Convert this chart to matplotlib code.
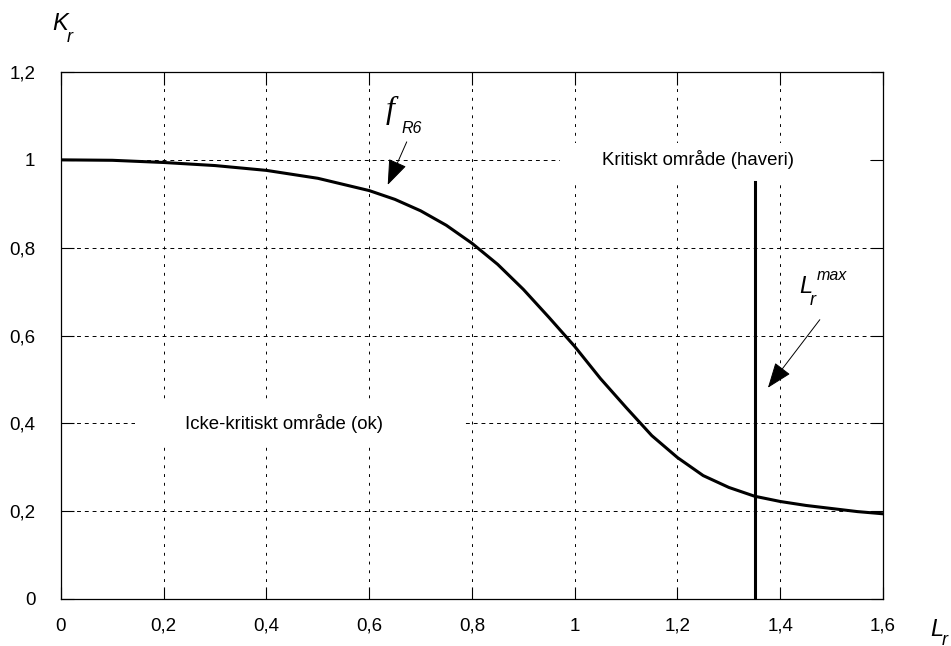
import matplotlib
matplotlib.use("Agg")
import matplotlib.pyplot as plt
from matplotlib.patches import Rectangle
from matplotlib.ticker import FuncFormatter

plt.rcParams['font.family'] = ['Liberation Sans', 'DejaVu Sans']

W, H = 951, 646

# R6 curve
lr = [0.0, 0.1, 0.2, 0.3, 0.4, 0.5, 0.6, 0.65, 0.7, 0.75, 0.8, 0.85, 0.9, 0.95,
      1.0, 1.05, 1.1, 1.15, 1.2, 1.25, 1.3, 1.35, 1.4, 1.45, 1.5, 1.55, 1.6]
kr = [1.000, 0.999, 0.994, 0.987, 0.976, 0.958, 0.930, 0.910, 0.884, 0.851, 0.810,
      0.762, 0.705, 0.641, 0.575, 0.502, 0.436, 0.372, 0.322, 0.281, 0.254, 0.234,
      0.222, 0.213, 0.206, 0.199, 0.194]

lr_max = 1.35
lr_max_top = 0.95

x_ticks = [0, 0.2, 0.4, 0.6, 0.8, 1.0, 1.2, 1.4, 1.6]
y_ticks = [0, 0.2, 0.4, 0.6, 0.8, 1.0, 1.2]


def comma(v, pos):
    s = ('%.1f' % v).rstrip('0').rstrip('.')
    return s.replace('.', ',')


def ptext(x, y, s, size, **kw):
    # place text by pixel position (from top-left), baseline anchored
    fig.text(x / W, 1 - y / H, s, fontsize=size, ha='left', va='baseline',
             fontstyle='italic', **kw)


fig = plt.figure(figsize=(W / 100, H / 100), dpi=100)
ax = fig.add_axes([0.0641, 0.0728, 0.8644, 0.8157])
ax.set_xlim(0, 1.6)
ax.set_ylim(0, 1.2)
ax.set_xticks(x_ticks)
ax.set_yticks(y_ticks)
ax.xaxis.set_major_formatter(FuncFormatter(comma))
ax.yaxis.set_major_formatter(FuncFormatter(comma))
ax.tick_params(direction='in', length=9, width=0.8, top=True, right=True,
               labelsize=13.5, color='black')
ax.tick_params(axis='y', pad=18.5)
ax.tick_params(axis='x', pad=13.5)
for sp in ax.spines.values():
    sp.set_linewidth(0.9)

ax.set_axisbelow(True)
ax.xaxis.grid(True, color='black', linewidth=0.7, linestyle=(0, (3, 6)))
ax.yaxis.grid(True, color='black', linewidth=0.7, linestyle=(0, (4, 4)))

# white boxes behind the region labels
ax.add_patch(Rectangle((0.144, 0.355), 0.638, 0.094, facecolor='white',
                       edgecolor='none', zorder=1))
ax.add_patch(Rectangle((0.971, 0.948), 0.604, 0.091, facecolor='white',
                       edgecolor='none', zorder=1))

ax.plot(lr, kr, color='black', linewidth=2.2, zorder=3)
ax.plot([lr_max, lr_max], [0, lr_max_top], color='black', linewidth=2.2, zorder=3)

ax.text(0.434, 0.40, 'Icke-kritiskt område (ok)', fontsize=13.4, ha='center',
        va='center', zorder=4)
ax.text(1.24, 1.0, 'Kritiskt område (haveri)', fontsize=13.4, ha='center',
        va='center', zorder=4)

arrow = dict(arrowstyle='-|>,head_length=1.6,head_width=0.6', color='black',
             lw=0.7, shrinkA=0, shrinkB=0)
ax.annotate('', xy=(0.636, 0.943), xytext=(0.673, 1.041), arrowprops=arrow,
            zorder=4)
ax.annotate('', xy=(1.376, 0.481), xytext=(1.477, 0.636), arrowprops=arrow,
            zorder=4)

# f_R6
ptext(386, 118, 'f', 23, family='Liberation Serif')
ptext(402, 133, 'R6', 11.5)
# L_r^max
ptext(799, 293, 'L', 17)
ptext(810, 305, 'r', 13)
ptext(817, 280, 'max', 11.5)
# axis names
ptext(52, 30, 'K', 17)
ptext(67, 42, 'r', 13)
ptext(930, 636, 'L', 17)
ptext(942, 645, 'r', 13)

fig.savefig('out.png', dpi=100)
